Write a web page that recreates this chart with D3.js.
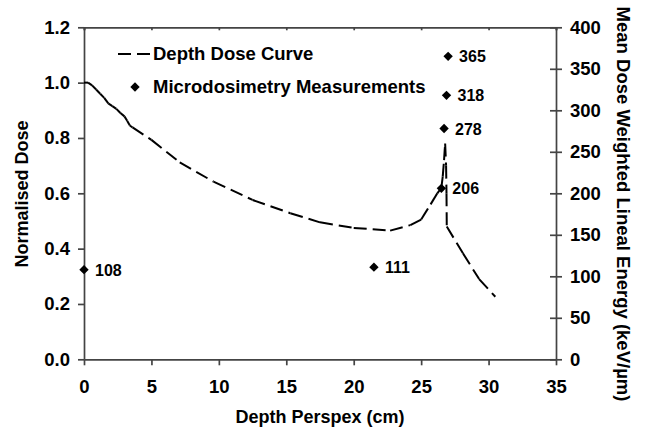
<!DOCTYPE html>
<html>
<head>
<meta charset="utf-8">
<script src="https://cdn.jsdelivr.net/npm/d3@7"></script>
<style>
  body { margin: 0; background: #fff; }
  svg text { font-family: "Liberation Sans", Arial, sans-serif; font-weight: bold; fill: #000; }
</style>
</head>
<body>
<div id="chart"></div>
<script>
// depth dose curve (depth cm, normalised dose)
var depth = [0, 0.3, 0.6, 0.9, 1.2, 1.5, 1.8, 2.1, 2.4, 2.7, 3.0, 3.2, 3.4, 3.6,
  5.0, 7.1, 9.6, 12.5, 15.3, 17.5, 20.0, 22.7, 24.2, 25.0, 25.7, 26.2, 26.5,
  26.6, 26.7, 26.78, 26.85, 26.88, 26.9, 28.1, 29.3, 30.5];
var dose = [1.0, 1.0, 0.99, 0.975, 0.96, 0.945, 0.925, 0.915, 0.905, 0.89, 0.878, 0.862, 0.845, 0.838,
  0.793, 0.712, 0.642, 0.576, 0.528, 0.495, 0.475, 0.465, 0.485, 0.505, 0.56, 0.6, 0.62,
  0.66, 0.72, 0.78, 0.70, 0.60, 0.48, 0.383, 0.29, 0.226];

// microdosimetry measurements (depth cm, keV/um)
var measDepth = [0, 21.5, 26.5, 26.7, 26.88, 27.0];
var measValue = [108, 111, 206, 278, 318, 365];

var xTicks = [0, 5, 10, 15, 20, 25, 30, 35];
var yLeftTicks = [0, 0.2, 0.4, 0.6, 0.8, 1.0, 1.2];
var yRightTicks = [0, 50, 100, 150, 200, 250, 300, 350, 400];

var width = 646, height = 432;
var margin = {top: 27.3, right: 90, bottom: 72.7, left: 84};

var svg = d3.select("#chart").append("svg")
    .attr("width", width)
    .attr("height", height);

var x = d3.scaleLinear().domain([0, 35]).range([margin.left, width - margin.right]);
var yL = d3.scaleLinear().domain([0, 1.2]).range([height - margin.bottom, margin.top]);
var yR = d3.scaleLinear().domain([0, 400]).range([height - margin.bottom, margin.top]);

var axisCol = "#444";
var tickFont = "18.5px";

// top border with small ticks
var topAx = svg.append("g")
    .attr("transform", "translate(0," + margin.top + ")")
    .call(d3.axisTop(x).tickValues(xTicks).tickSize(-3).tickFormat(""));

// bottom axis
var bottomAx = svg.append("g")
    .attr("transform", "translate(0," + (height - margin.bottom) + ")")
    .call(d3.axisBottom(x).tickValues(xTicks).tickSize(6).tickPadding(15).tickSizeOuter(0));

// left axis
var leftAx = svg.append("g")
    .attr("transform", "translate(" + margin.left + ",0)")
    .call(d3.axisLeft(yL).tickValues(yLeftTicks).tickFormat(d3.format(".1f")).tickSize(6).tickPadding(8).tickSizeOuter(0));

// right axis, ticks cross the line
var rightAx = svg.append("g")
    .attr("transform", "translate(" + (width - margin.right) + ",0)")
    .call(d3.axisRight(yR).tickValues(yRightTicks).tickSize(6).tickPadding(8).tickSizeOuter(0));
rightAx.selectAll(".tick line").attr("x1", -6);

[topAx, bottomAx, leftAx, rightAx].forEach(function (g) {
    g.attr("font-size", null).attr("font-family", null);
    g.select(".domain").attr("stroke", axisCol).attr("stroke-width", 1.7);
    g.selectAll(".tick line").attr("stroke", axisCol).attr("stroke-width", 1.7);
    g.selectAll("text").attr("fill", "#000").style("font-size", tickFont);
});

// dashed curve, dash pattern restarts on every segment
var pts = depth.map(function (d, i) { return [x(d), yL(dose[i])]; });
svg.append("g").selectAll("path")
    .data(d3.pairs(pts))
    .enter().append("path")
    .attr("d", function (p) { return d3.line()(p); })
    .attr("fill", "none")
    .attr("stroke", "#000")
    .attr("stroke-width", 2)
    .attr("stroke-dasharray", "13,6");

// measurements
var diamond = d3.symbol().type(d3.symbolSquare).size(44);
var meas = svg.append("g").selectAll("g")
    .data(measDepth.map(function (d, i) { return {x: d, v: measValue[i]}; }))
    .enter().append("g")
    .attr("transform", function (d) { return "translate(" + x(d.x) + "," + yR(d.v) + ")"; });
meas.append("path")
    .attr("d", diamond)
    .attr("transform", "rotate(45)")
    .attr("fill", "#000");
meas.append("text")
    .attr("x", 11)
    .attr("y", 6)
    .style("font-size", "16px")
    .text(function (d) { return d.v; });

// legend
var legend = svg.append("g");
legend.append("line")
    .attr("x1", 118).attr("x2", 150)
    .attr("y1", 54).attr("y2", 54)
    .attr("stroke", "#000").attr("stroke-width", 2)
    .attr("stroke-dasharray", "13,6");
legend.append("text").attr("x", 153).attr("y", 59.5).style("font-size", "18.5px").text("Depth Dose Curve");
legend.append("path").attr("d", diamond).attr("transform", "translate(135,87) rotate(45)").attr("fill", "#000");
legend.append("text").attr("x", 153).attr("y", 93).style("font-size", "18.5px").text("Microdosimetry Measurements");

// axis titles
svg.append("text")
    .attr("x", (margin.left + width - margin.right) / 2)
    .attr("y", 423)
    .attr("text-anchor", "middle")
    .style("font-size", "18px")
    .text("Depth Perspex (cm)");

svg.append("text")
    .attr("transform", "translate(28,194) rotate(-90)")
    .attr("text-anchor", "middle")
    .style("font-size", "18px")
    .text("Normalised Dose");

svg.append("text")
    .attr("transform", "translate(617,204) rotate(90)")
    .attr("text-anchor", "middle")
    .style("font-size", "18.5px")
    .text("Mean Dose Weighted Lineal Energy (keV/µm)");
</script>
</body>
</html>
